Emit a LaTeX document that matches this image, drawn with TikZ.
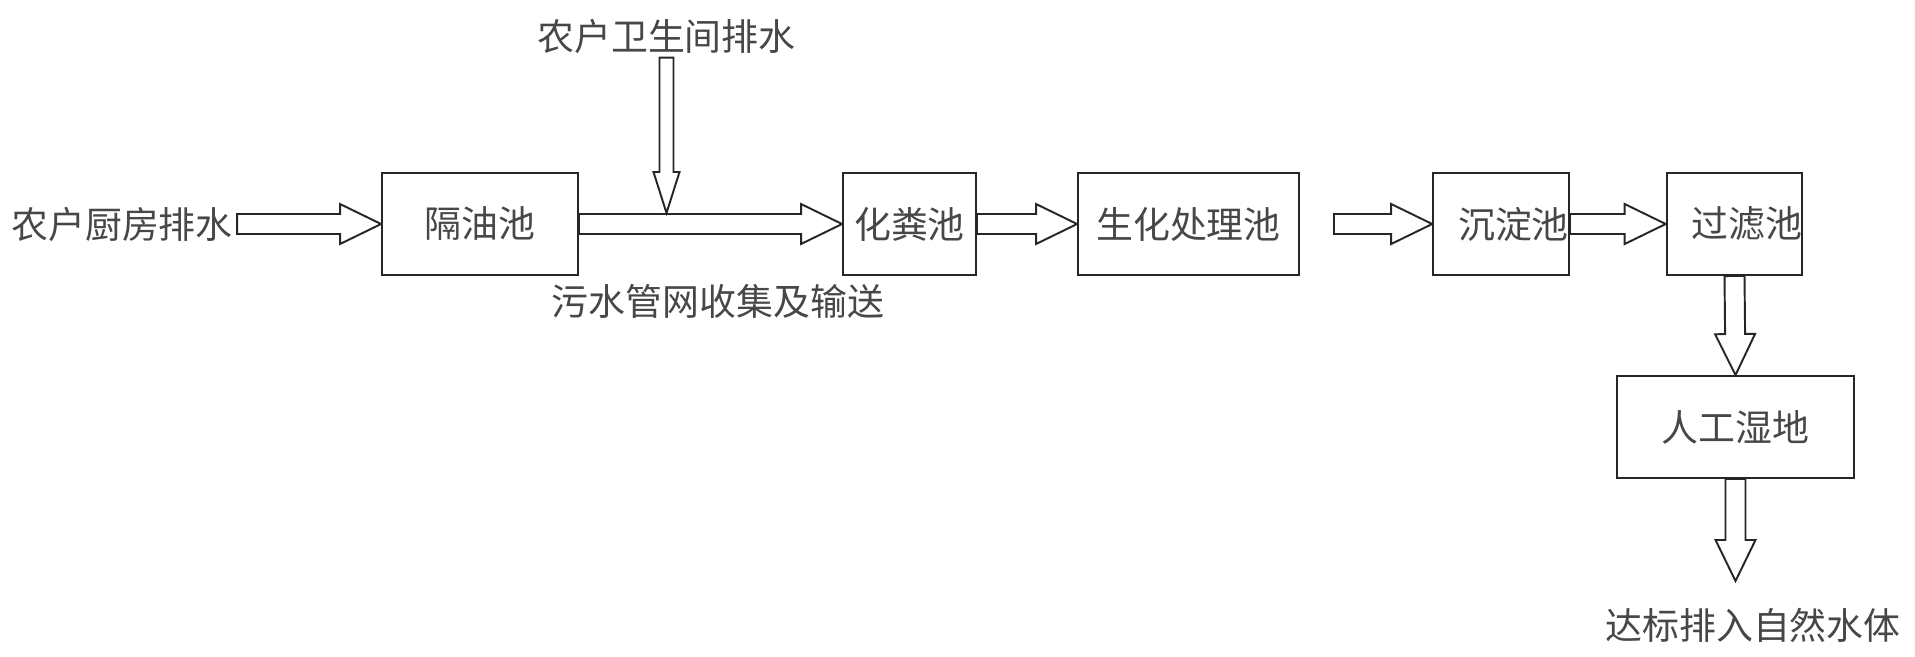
\documentclass[tikz,border=0pt]{standalone}
\usepackage{fontspec}
\newfontfamily\cjk{Noto Sans CJK SC}
\usetikzlibrary{calc}
\def\fatarrow[#1](#2)(#3)(#4:#5){\draw[#1] ($(#2)!#4!90:(#3)$) -- ($(#3)!0.82cm!(#2)!#4!90:(#3)$) -- ($(#3)!0.82cm!(#2)!#5!90:(#3)$) -- (#3) -- ($(#3)!0.82cm!(#2)!#5!-90:(#3)$) -- ($(#3)!0.82cm!(#2)!#4!-90:(#3)$) -- ($(#2)!#4!-90:(#3)$) -- cycle;}

\begin{document}
\begin{tikzpicture}[
		font=\cjk\fontsize{21}{25}\selectfont,
		pool/.style={draw=black!85, line width=1.1pt, minimum height=2.04cm, inner sep=0pt, text=black!72},
		pipe/.style={draw=black!85, line width=1.1pt, line join=miter},
		txt/.style={inner sep=0.08cm, text=black!72}]
		%%%%% START %%%%%
		\useasboundingbox (0, 0) rectangle (38.3, -13.12);
		
		\node[pool, minimum width=3.92cm] (oil) at (9.6, -4.48) {隔油池};
		\node[pool, minimum width=2.66cm] (septic) at (18.19, -4.48) {化粪池};
		\node[pool, minimum width=4.42cm] (bio) at (23.77, -4.48) {生化处理池};
		\node[pool, minimum width=2.64cm] (settle) at (30.02, -4.48) {\hspace{0.5cm}沉淀池};
		\node[pool, minimum width=2.66cm] (filter) at (34.69, -4.48) {\hspace{0.5cm}过滤池};
		\node[pool, minimum width=4.74cm] (wetland) at (34.71, -8.54) {人工湿地};
		
		\node[txt] (kitchen) at (2.44, -4.48) {农户厨房排水};
		\node[txt] (toilet) at (13.33, -0.72) {农户卫生间排水};
		\node[txt] (sewer) at (14.36, -6.02) {污水管网收集及输送};
		\node[txt] (outlet) at (35.06, -12.5) {达标排入自然水体};
		
		\coordinate (join) at ($(toilet.south |- oil.east)+(0, 0.22)$);
		\coordinate (gapstart) at ($(bio.east)+(0.68, 0)$);
		\coordinate (outtip) at ($(wetland.south)+(0, -2.04)$);
		
		\fatarrow[pipe](kitchen.east)(oil.west)(0.2cm:0.4cm)
		\fatarrow[pipe](oil.east)(septic.west)(0.2cm:0.4cm)
		\fatarrow[pipe](toilet.south)(join)(0.14cm:0.26cm)
		\fatarrow[pipe](septic.east)(bio.west)(0.2cm:0.4cm)
		\fatarrow[pipe](gapstart)(settle.west)(0.2cm:0.4cm)
		\fatarrow[pipe](settle.east)(filter.west)(0.2cm:0.4cm)
		\fatarrow[pipe](filter.south)(wetland.north)(0.2cm:0.4cm)
		\fatarrow[pipe](wetland.south)(outtip)(0.2cm:0.4cm)
		
		%%%%% END %%%%%
	\end{tikzpicture}
\end{document}
